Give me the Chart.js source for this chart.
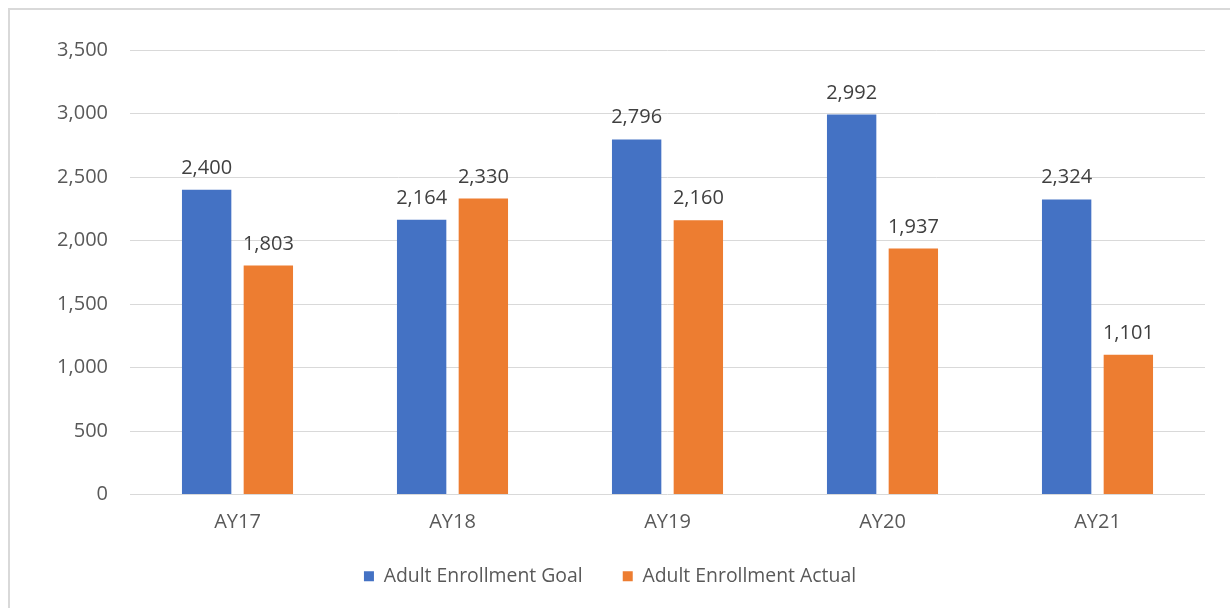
<!DOCTYPE html>
<html>
<head>
<meta charset="utf-8">
<script src="https://cdn.jsdelivr.net/npm/chart.js@4/dist/chart.umd.min.js"></script>
<style>
  html, body { margin: 0; padding: 0; background: #fff; }
  #wrap { position: relative; width: 1230px; height: 608px; overflow: hidden; }
  #frame { position: absolute; left: 8px; top: 8px; width: 1240px; height: 620px;
           border-left: 2px solid #d9d9d9; border-top: 2px solid #d9d9d9; }
  canvas { position: absolute; left: 0; top: 0; }
</style>
</head>
<body>
<div id="wrap">
  <div id="frame"></div>
  <canvas id="enrollChart" width="1230" height="608"></canvas>
</div>
<script>
// Adult enrollment by academic year
const years = ['AY17', 'AY18', 'AY19', 'AY20', 'AY21'];
const goalValues = [2400, 2164, 2796, 2992, 2324];
const actualValues = [1803, 2330, 2160, 1937, 1101];
const yTicks = [0, 500, 1000, 1500, 2000, 2500, 3000, 3500];

const FONT = "'Open Sans', sans-serif";
const fmt = v => v.toLocaleString('en-US');

// value labels above each bar
const barLabels = {
  id: 'barLabels',
  afterDatasetsDraw(chart) {
    const ctx = chart.ctx;
    ctx.save();
    ctx.font = '20px ' + FONT;
    ctx.fillStyle = '#404040';
    ctx.textAlign = 'center';
    ctx.textBaseline = 'alphabetic';
    chart.data.datasets.forEach((ds, i) => {
      chart.getDatasetMeta(i).data.forEach((bar, j) => {
        ctx.fillText(fmt(ds.data[j]), bar.x, bar.y - 16);
      });
    });
    ctx.restore();
  }
};

new Chart(document.getElementById('enrollChart'), {
  type: 'bar',
  data: {
    labels: years,
    datasets: [
      { label: 'Adult Enrollment Goal', data: goalValues, backgroundColor: '#4472C4' },
      { label: 'Adult Enrollment Actual', data: actualValues, backgroundColor: '#ED7D31' }
    ]
  },
  options: {
    responsive: false,
    animation: false,
    categoryPercentage: 0.574,
    barPercentage: 0.8,
    layout: { padding: { left: 15, right: 25, top: 50, bottom: 12 } },
    plugins: {
      tooltip: { enabled: false },
      legend: {
        position: 'bottom',
        labels: {
          font: { family: FONT, size: 19.4 },
          color: '#595959',
          boxWidth: 10,
          boxHeight: 10,
          padding: 30,
          // a little extra room between the two entries
          generateLabels(chart) {
            const items = Chart.defaults.plugins.legend.labels.generateLabels(chart);
            items.forEach((it, i) => { if (i < items.length - 1) it.text += '  '; });
            return items;
          }
        }
      }
    },
    scales: {
      y: {
        min: 0,
        max: 3500,
        afterBuildTicks(scale) { scale.ticks = yTicks.map(v => ({ value: v })); },
        afterFit(scale) { scale.width = 115; },
        border: { display: false },
        grid: { color: '#d9d9d9', drawTicks: false },
        ticks: {
          font: { family: FONT, size: 20 },
          color: '#595959',
          padding: 22,
          callback: v => fmt(v)
        }
      },
      x: {
        afterFit(scale) { scale.height = 42; },
        border: { display: false },
        grid: { display: false },
        ticks: {
          font: { family: FONT, size: 20 },
          color: '#595959',
          padding: 8
        }
      }
    }
  },
  plugins: [barLabels]
});
</script>
</body>
</html>
